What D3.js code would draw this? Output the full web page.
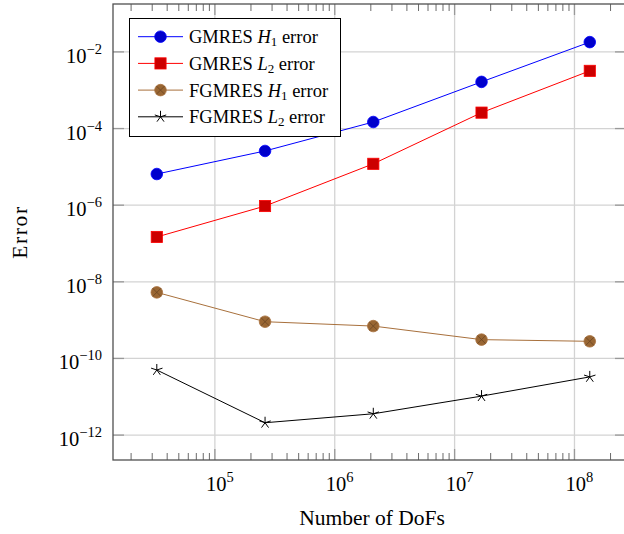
<!DOCTYPE html>
<html><head><meta charset="utf-8">
<script src="https://cdn.jsdelivr.net/npm/d3@7"></script>
<style>body{margin:0;background:#fff}svg{display:block}text{font-family:"Liberation Serif","DejaVu Serif",serif;fill:#000}</style>
</head><body><svg id="c" width="624" height="534"></svg>
<script>
const dofs = [32768, 262144, 2097152, 16777216, 134217728];
const gmresH1 = [6.5e-6, 2.6e-5, 1.48e-4, 1.65e-3, 1.8e-2];
const gmresL2 = [1.48e-7, 9.5e-7, 1.2e-5, 2.6e-4, 3.2e-3];
const fgmresH1 = [5.3e-9, 9.1e-10, 7.0e-10, 3.1e-10, 2.8e-10];
const fgmresL2 = [5.0e-11, 2.1e-12, 3.6e-12, 1.04e-11, 3.3e-11];
const xTickExps = [5, 6, 7, 8];
const yTickExps = [-2, -4, -6, -8, -10, -12];
const seriesNames = ["GMRES H1 error", "GMRES L2 error", "FGMRES H1 error", "FGMRES L2 error"];

const L = 113, R = 626, T = 4, B = 460;
const svg = d3.select("#c");
const x = d3.scaleLog().domain([Math.pow(10, 4.15), Math.pow(10, 8.43)]).range([L, R]);
const y = d3.scaleLog().domain([Math.pow(10, -12.65), Math.pow(10, -0.75)]).range([B, T]);

const series = [
  {name: seriesNames[0], vals: gmresH1, stroke: "#0000ff", fill: "#0000cc", mark: "circle", sym: "H", sub: "1"},
  {name: seriesNames[1], vals: gmresL2, stroke: "#ff0000", fill: "#cc0000", mark: "square", sym: "L", sub: "2"},
  {name: seriesNames[2], vals: fgmresH1, stroke: "#a8703c", fill: "#996633", mark: "otimes", sym: "H", sub: "1"},
  {name: seriesNames[3], vals: fgmresL2, stroke: "#000000", fill: "#000000", mark: "star", sym: "L", sub: "2"}
];

// grid
const g = svg.append("g");
xTickExps.forEach(e => {
  g.append("line").attr("x1", x(Math.pow(10, e))).attr("x2", x(Math.pow(10, e)))
   .attr("y1", T).attr("y2", B).attr("stroke", "#d3d3d3").attr("stroke-width", 1.3);
});
yTickExps.forEach(e => {
  g.append("line").attr("y1", y(Math.pow(10, e))).attr("y2", y(Math.pow(10, e)))
   .attr("x1", L).attr("x2", R).attr("stroke", "#d3d3d3").attr("stroke-width", 1.3);
});
// minor x ticks
const xd = x.domain();
for (let e = 4; e <= 8; e++) {
  for (let m = 2; m <= 9; m++) {
    const v = m * Math.pow(10, e);
    if (v < xd[0] || v > xd[1]) continue;
    const px = x(v);
    g.append("line").attr("x1", px).attr("x2", px).attr("y1", B).attr("y2", B - 7).attr("stroke", "#444").attr("stroke-width", 0.8);
    g.append("line").attr("x1", px).attr("x2", px).attr("y1", T).attr("y2", T + 7).attr("stroke", "#444").attr("stroke-width", 0.8);
  }
}
// major ticks
xTickExps.forEach(e => {
  const px = x(Math.pow(10, e));
  g.append("line").attr("x1", px).attr("x2", px).attr("y1", B).attr("y2", B - 11).attr("stroke", "#999").attr("stroke-width", 1.3);
  g.append("line").attr("x1", px).attr("x2", px).attr("y1", T).attr("y2", T + 11).attr("stroke", "#999").attr("stroke-width", 1.3);
});
yTickExps.forEach(e => {
  const py = y(Math.pow(10, e));
  g.append("line").attr("x1", L).attr("x2", L + 11).attr("y1", py).attr("y2", py).attr("stroke", "#999").attr("stroke-width", 1.3);
  g.append("line").attr("x1", R).attr("x2", R - 11).attr("y1", py).attr("y2", py).attr("stroke", "#999").attr("stroke-width", 1.3);
});
// frame
svg.append("rect").attr("x", L).attr("y", T).attr("width", R - L).attr("height", B - T)
  .attr("fill", "none").attr("stroke", "#505050").attr("stroke-width", 1.3);

// tick labels
xTickExps.forEach(e => {
  const t = svg.append("text").attr("x", x(Math.pow(10, e)) + 5).attr("y", 491).attr("text-anchor", "middle").attr("font-size", 20.5);
  t.append("tspan").text("10");
  t.append("tspan").attr("font-size", 14.5).attr("dy", -9).text(e);
});
yTickExps.forEach(e => {
  const t = svg.append("text").attr("x", 102).attr("y", y(Math.pow(10, e)) + 11).attr("text-anchor", "end").attr("font-size", 20.5);
  t.append("tspan").text("10");
  t.append("tspan").attr("font-size", 14.5).attr("dy", -9).text("\u2212" + Math.abs(e));
});
// axis labels
svg.append("text").attr("x", 372).attr("y", 525).attr("text-anchor", "middle").attr("font-size", 21.5).text("Number of DoFs");
svg.append("text").attr("transform", "translate(27,232) rotate(-90)").attr("text-anchor", "middle").attr("font-size", 21.5).attr("letter-spacing", 1.6).text("Error");

function drawMark(sel, type, cx, cy, s) {
  if (type === "circle") {
    sel.append("circle").attr("cx", cx).attr("cy", cy).attr("r", 5.8).attr("fill", s.fill).attr("stroke", s.stroke).attr("stroke-width", 0.8);
  } else if (type === "square") {
    sel.append("rect").attr("x", cx - 5.6).attr("y", cy - 5.6).attr("width", 11.2).attr("height", 11.2).attr("fill", s.fill).attr("stroke", s.stroke).attr("stroke-width", 0.8);
  } else if (type === "otimes") {
    sel.append("circle").attr("cx", cx).attr("cy", cy).attr("r", 5.8).attr("fill", s.fill).attr("stroke", s.stroke).attr("stroke-width", 0.8);
    const d = 5.8 * Math.SQRT1_2;
    sel.append("path").attr("d", `M${cx - d},${cy - d}L${cx + d},${cy + d}M${cx - d},${cy + d}L${cx + d},${cy - d}`)
      .attr("stroke", "#6b4522").attr("stroke-width", 0.8);
  } else if (type === "star") {
    let p = "";
    for (let k = 0; k < 5; k++) {
      const a = -Math.PI / 2 + k * 2 * Math.PI / 5;
      p += `M${cx},${cy}L${cx + 6 * Math.cos(a)},${cy + 6 * Math.sin(a)}`;
    }
    sel.append("path").attr("d", p).attr("stroke", "#000").attr("stroke-width", 1).attr("fill", "none");
  }
}

// series
const line = d3.line().x(d => x(d[0])).y(d => y(d[1]));
series.forEach(s => {
  const pts = dofs.map((d, i) => [d, s.vals[i]]);
  svg.append("path").attr("d", line(pts)).attr("fill", "none").attr("stroke", s.stroke).attr("stroke-width", 1);
  const mg = svg.append("g");
  pts.forEach(p => drawMark(mg, s.mark, x(p[0]), y(p[1]), s));
});

// legend
const lg = svg.append("g");
lg.append("rect").attr("x", 129.5).attr("y", 18.5).attr("width", 211).attr("height", 118).attr("fill", "#fff").attr("stroke", "#000").attr("stroke-width", 1);
series.forEach((s, i) => {
  const ly = 36.7 + i * 26.7;
  lg.append("line").attr("x1", 138).attr("x2", 183).attr("y1", ly).attr("y2", ly).attr("stroke", s.stroke).attr("stroke-width", 1);
  drawMark(lg, s.mark, 160.5, ly, s);
  const t = lg.append("text").attr("x", 189).attr("y", ly + 6.5).attr("font-size", 18.5);
  t.append("tspan").text(s.name.split(" ")[0] + " ");
  t.append("tspan").attr("font-style", "italic").text(s.sym);
  t.append("tspan").attr("font-size", 13).attr("dy", 3).text(s.sub);
  t.append("tspan").attr("dy", -3).text(" error");
});
</script></body></html>
